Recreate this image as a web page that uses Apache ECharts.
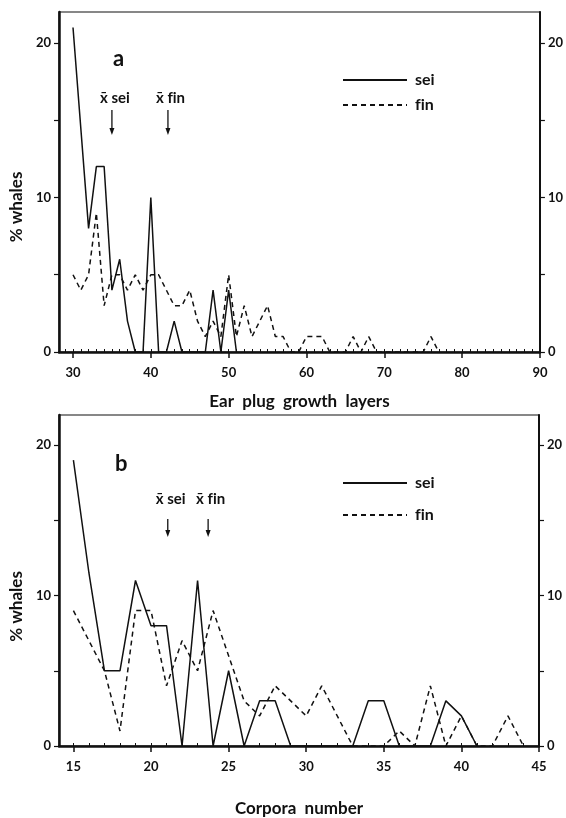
<!DOCTYPE html>
<html>
<head>
<meta charset="utf-8">
<script src="https://cdn.jsdelivr.net/npm/echarts@6/dist/echarts.min.js"></script>
<style>
html, body { margin: 0; padding: 0; background: #fff; }
#main { width: 566px; height: 818px; }
</style>
</head>
<body>
<div id="main"></div>
<script>
// panel a: ear plug growth layers
const earLayersSei = [30, 32, 33, 34, 35, 36, 37, 38, 39, 40, 41, 42, 43, 44, 47, 48, 49, 50, 51]
const earSei = [21, 8, 12, 12, 4, 6, 2, 0, 0, 10, 0, 0, 2, 0, 0, 4, 0, 4, 0]
const earLayersFin = [30, 31, 32, 33, 34, 35, 36, 37, 38, 39, 40, 41, 42, 43, 44, 45, 46, 47, 48, 49, 50,
  51, 52, 53, 54, 55, 56, 57, 58, 59, 60, 61, 62, 63, 65, 66, 67, 68, 69, 75, 76, 77]
const earFin = [5, 4, 5, 9, 3, 5, 5, 4, 5, 4, 5, 5, 4, 3, 3, 4, 2, 1, 2, 1, 5,
  1, 3, 1, 2, 3, 1, 1, 0, 0, 1, 1, 1, 0, 0, 1, 0, 1, 0, 0, 1, 0]
const earMeans = [35, 42.2]          // x̄ sei, x̄ fin
const earTicks = [30, 40, 50, 60, 70, 80, 90]

// panel b: corpora number
const corporaSei = [15, 16, 17, 18, 19, 20, 21, 22, 23, 24, 25, 26, 27, 28, 29, 33, 34, 35, 36, 38, 39, 40, 41]
const corporaSeiPct = [19, 11.5, 5, 5, 11, 8, 8, 0, 11, 0, 5, 0, 3, 3, 0, 0, 3, 3, 0, 0, 3, 2, 0]
const corporaFin = [15, 16, 17, 18, 19, 20, 21, 22, 23, 24, 25, 26, 27, 28, 29, 30, 31, 32, 33, 35, 36,
  37, 38, 39, 40, 41, 42, 43, 44]
const corporaFinPct = [9, 7, 5, 1, 9, 9, 4, 7, 5, 9, 6, 3, 2, 4, 3, 2, 4, 2, 0, 0, 1,
  0, 4, 0, 2, 0, 0, 2, 0]
const corporaMeans = [21.08, 23.68]
const corporaTicks = [15, 20, 25, 30, 35, 40, 45]

const percentTicks = [0, 10, 20]
const percentMinor = [0, 5, 10, 15, 20]

// zero-width non-joiner keeps "fi" from turning into a ligature
const SEI = 'sei'
const FIN = 'f\u200Cin'

const ink = '#111'
const font = 'Lato'

const zip = (xs, ys) => xs.map((x, i) => [x, ys[i]])
const range = (a, b) => Array.from({length: b - a + 1}, (_, i) => a + i)

function xAxes(gridIndex, min, max, ticks, name, nameGap) {
  return [
    {
      type: 'value', gridIndex, min, max, name,
      nameLocation: 'middle', nameGap,
      nameTextStyle: {color: ink, fontFamily: font, fontSize: 17, fontWeight: 'bold'},
      axisLine: {lineStyle: {color: ink, width: 2.5}},
      axisTick: {show: true, length: 6, customValues: ticks, lineStyle: {color: ink, width: 1.5}},
      axisLabel: {customValues: ticks, margin: 14, color: ink, fontFamily: font, fontSize: 13, fontWeight: 'bold'},
      splitLine: {show: false}
    },
    {
      type: 'value', gridIndex, min, max,
      axisLine: {show: false},
      axisTick: {show: true, length: 3, customValues: range(Math.ceil(min), max), lineStyle: {color: ink, width: 1}},
      axisLabel: {show: false},
      splitLine: {show: false}
    }
  ]
}

function yAxes(gridIndex, namePad) {
  const base = {
    type: 'value', gridIndex, min: 0, max: 22,
    axisTick: {show: true, length: 5, customValues: percentMinor, lineStyle: {color: ink, width: 1.2}},
    axisLabel: {customValues: percentTicks, margin: 8, color: ink, fontFamily: font, fontSize: 13, fontWeight: 'bold'},
    splitLine: {show: false}
  }
  return [
    {
      ...base, position: 'left',
      name: '% whales', nameLocation: 'middle', nameGap: 32, nameRotate: 90,
      nameTextStyle: {color: ink, fontFamily: font, fontSize: 17, fontWeight: 'bold', padding: [0, namePad, 0, 0]},
      axisLine: {show: true, lineStyle: {color: ink, width: 2.5}}
    },
    {
      ...base, position: 'right',
      axisLine: {show: true, lineStyle: {color: ink, width: 2}}
    }
  ]
}

function lineSeries(name, data, xAxisIndex, yAxisIndex, dashed) {
  return {
    name, type: 'line', data, xAxisIndex, yAxisIndex,
    symbol: 'none', silent: true, animation: false,
    lineStyle: {color: ink, width: 1.5, type: dashed ? [5, 4] : 'solid'},
    itemStyle: {color: ink}
  }
}

const legendBase = {
  data: [SEI, FIN], orient: 'vertical', left: 337,
  itemWidth: 64, itemHeight: 14, selectedMode: false,
  itemStyle: {opacity: 0},
  textStyle: {color: ink, fontFamily: font, fontSize: 16, fontWeight: 'bold', padding: [0, 0, 0, 3]}
}

const chart = echarts.init(document.getElementById('main'))
chart.setOption({
  backgroundColor: '#fff',
  animation: false,
  grid: [
    {left: 59, top: 12, width: 481, height: 340, show: true, borderColor: ink, borderWidth: 1.2},
    {left: 58, top: 415, width: 481, height: 339, show: true, borderColor: ink, borderWidth: 1.2}
  ],
  title: [
    {text: 'a', left: 108, top: 43, textStyle: {color: ink, fontFamily: font, fontSize: 22, fontWeight: 'bold'}},
    {text: 'b', left: 110, top: 448, textStyle: {color: ink, fontFamily: font, fontSize: 22, fontWeight: 'bold'}}
  ],
  legend: [
    {...legendBase, top: 67, itemGap: 9},
    {...legendBase, top: 470, itemGap: 16}
  ],
  xAxis: [
    ...xAxes(0, 28.2, 90, earTicks, 'Ear  plug  growth  layers', 41),
    ...xAxes(1, 14.07, 45, corporaTicks, 'Corpora  number', 54)
  ],
  yAxis: [...yAxes(0, 50), ...yAxes(1, 52)],
  series: [
    lineSeries(SEI, zip(earLayersSei, earSei), 0, 0, false),
    lineSeries(FIN, zip(earLayersFin, earFin), 0, 0, true),
    lineSeries(SEI, zip(corporaSei, corporaSeiPct), 2, 2, false),
    lineSeries(FIN, zip(corporaFin, corporaFinPct), 2, 2, true)
  ]
})

// x̄ markers: arrow x from the axis scale, vertical placement is layout only
const markers = [
  {xAxisIndex: 0, means: earMeans, textY: 100, top: 110, bottom: 135},
  {xAxisIndex: 2, means: corporaMeans, textY: 501, top: 519, bottom: 537}
]
const labels = ['x\u0304 ' + SEI, 'x\u0304 ' + FIN]
const graphics = []
markers.forEach(m => {
  m.means.forEach((v, i) => {
    const x = chart.convertToPixel({xAxisIndex: m.xAxisIndex}, v)
    graphics.push({
      type: 'text', left: x - 12, top: m.textY - 9,
      style: {text: labels[i], fill: ink, font: 'bold 15px ' + font}
    })
    graphics.push({
      type: 'line', shape: {x1: x, y1: m.top, x2: x, y2: m.bottom - 5},
      style: {stroke: ink, lineWidth: 1.3}
    })
    graphics.push({
      type: 'polygon', shape: {points: [[x - 2.5, m.bottom - 7], [x + 2.5, m.bottom - 7], [x, m.bottom]]},
      style: {fill: ink}
    })
  })
})
chart.setOption({graphic: graphics})
</script>
</body>
</html>
